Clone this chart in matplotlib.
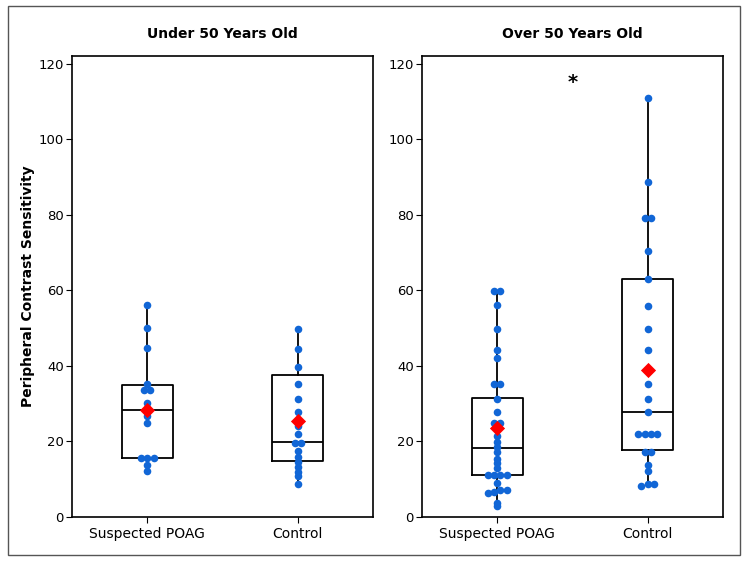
import matplotlib
matplotlib.use("Agg")
import matplotlib.pyplot as plt
import numpy as np
from matplotlib.patches import Rectangle

categories = ["Suspected POAG", "Control"]
panel_titles = ["Under 50 Years Old", "Over 50 Years Old"]

under_poag = [56.2, 50.0, 44.7, 35.2, 33.6, 33.6, 30.1, 28.3, 26.6, 25.0,
              15.5, 15.5, 15.5, 13.8, 12.2]
under_ctrl = [49.7, 44.4, 39.7, 35.3, 31.3, 27.8, 24.0, 21.9, 19.7, 19.7,
              17.5, 15.8, 14.5, 13.3, 12.0, 10.8, 8.8]
over_poag = [59.7, 59.7, 56.2, 49.7, 44.2, 42.2, 35.2, 35.2, 31.3, 27.7,
             25.0, 25.0, 24.0, 21.5, 19.8, 18.6, 17.3, 15.4, 14.2, 12.9,
             11.0, 11.0, 11.0, 11.0, 8.9, 7.2, 7.2, 6.7, 6.3, 3.8, 3.0]
over_ctrl = [110.8, 88.6, 79.0, 79.0, 70.3, 63.0, 55.8, 49.7, 44.2, 35.2,
             31.3, 27.8, 21.9, 21.9, 21.9, 21.9, 17.3, 17.3, 13.8, 12.2,
             8.7, 8.7, 8.2]

# box statistics: q1, median, q3, mean
under_q1 = [15.7, 14.7]
under_med = [28.3, 19.8]
under_q3 = [35.0, 37.6]
under_mean = [28.3, 25.4]
over_q1 = [11.1, 17.6]
over_med = [18.2, 27.9]
over_q3 = [31.4, 63.0]
over_mean = [23.6, 38.9]

panels = [
    dict(data=[under_poag, under_ctrl], q1=under_q1, med=under_med, q3=under_q3, mean=under_mean),
    dict(data=[over_poag, over_ctrl], q1=over_q1, med=over_med, q3=over_q3, mean=over_mean),
]

dot_color = "#1166d6"
fig = plt.figure(figsize=(7.48, 5.61), dpi=100)
fig.patches.append(Rectangle((8/748, 6/561), 732/748, 549/561, transform=fig.transFigure,
                             fill=False, edgecolor="#555555", linewidth=1.0))

lefts = [72/748, 422/748]
bottom = 1 - 517/561
width = 301/748
height = (517 - 56)/561

dot_px = 7.5


def swarm(ax, xc, vals):
    # group near-equal values and spread them symmetrically (pixel space)
    trans = ax.transData
    inv = trans.inverted()
    order = np.argsort(vals)
    xs = np.zeros(len(vals))
    groups = []
    cur = [order[0]]
    for i in order[1:]:
        py_prev = trans.transform((xc, vals[cur[-1]]))[1]
        py = trans.transform((xc, vals[i]))[1]
        if abs(py - py_prev) < 3.0:
            cur.append(i)
        else:
            groups.append(cur)
            cur = [i]
    groups.append(cur)
    for g in groups:
        n = len(g)
        px0 = trans.transform((xc, 0))[0]
        for k, i in enumerate(g):
            px = px0 + (k - (n - 1) / 2) * dot_px * 0.85
            xs[i] = inv.transform((px, 0))[0]
    return xs


for pi, p in enumerate(panels):
    ax = fig.add_axes([lefts[pi], bottom, width, height])
    ax.set_xlim(-0.5, 1.5)
    ax.set_ylim(0, 122)
    stats = []
    for ci in range(2):
        d = p["data"][ci]
        stats.append(dict(med=p["med"][ci], q1=p["q1"][ci], q3=p["q3"][ci],
                          whislo=min(d), whishi=max(d), fliers=[], label=categories[ci]))
    ax.bxp(stats, positions=[0, 1], widths=0.34, showfliers=False, showcaps=False,
           boxprops=dict(color="black", linewidth=1.3),
           medianprops=dict(color="black", linewidth=1.3),
           whiskerprops=dict(color="black", linewidth=1.3))
    fig.canvas.draw()
    for ci in range(2):
        vals = np.array(p["data"][ci])
        xs = swarm(ax, ci, vals)
        ax.scatter(xs, vals, s=30, color=dot_color, zorder=3, linewidths=0)
        ax.scatter([ci], [p["mean"][ci]], marker="D", s=60, color="#ff0000", zorder=4, linewidths=0)
    ax.set_xticks([0, 1])
    ax.set_xticklabels(categories, fontsize=10)
    ax.set_yticks([0, 20, 40, 60, 80, 100, 120])
    ax.tick_params(axis="y", labelsize=9.5, length=4, pad=2)
    ax.tick_params(axis="x", length=4)
    for s in ax.spines.values():
        s.set_linewidth(1.2)
    ax.set_title(panel_titles[pi], fontsize=10, fontweight="bold", pad=13)
    if pi == 0:
        ax.set_ylabel("Peripheral Contrast Sensitivity", fontsize=10, fontweight="bold")
        ax.yaxis.set_label_coords(-37/301, 0.5)
    else:
        ax.text(0.5, 115.0, "*", ha="center", va="center", fontsize=14, fontweight="bold")

fig.savefig("out.png", dpi=100)
